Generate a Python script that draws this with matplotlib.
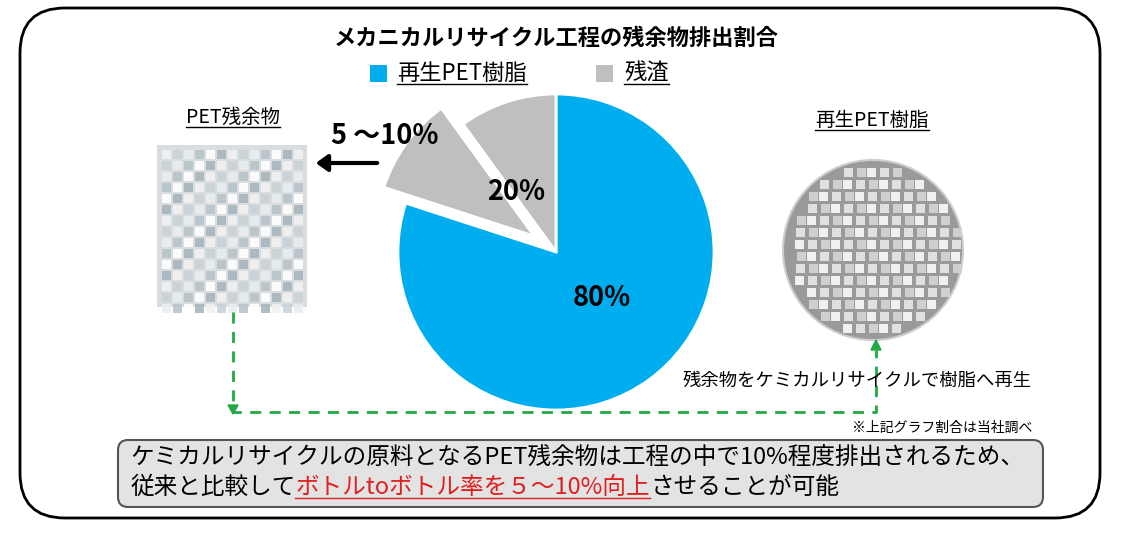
import matplotlib
matplotlib.use("Agg")
import matplotlib.pyplot as plt
from matplotlib.patches import FancyBboxPatch, Rectangle, Circle, Polygon
import numpy as np

plt.rcParams['font.family'] = ['Noto Sans CJK JP', 'DejaVu Sans']

title = "メカニカルリサイクル工程の残余物排出割合"
legend_labels = ["再生PET樹脂", "残渣"]
slice_values = [80, 10, 10]
slice_colors = ["#00AEEF", "#BFBFBF", "#BFBFBF"]
slice_explode = [0, 27, 0]  # pixel offset (data units)
label_main = "80%"
label_residue = "20%"
label_range = "5 ～10%"

W, H = 1132, 538
fig = plt.figure(figsize=(W/100, H/100), dpi=100)
ax = fig.add_axes([0, 0, 1, 1])
ax.set_xlim(0, W); ax.set_ylim(0, H); ax.set_aspect('equal'); ax.axis('off')
Y = lambda y: H - y

def utext(x, y, s, size, color='black', ha='center', weight='normal'):
    t = ax.text(x, Y(y), s, fontsize=size, color=color, ha=ha, va='center', weight=weight)
    fig.canvas.draw()
    bb = t.get_window_extent().transformed(ax.transData.inverted())
    ax.plot([bb.x0, bb.x1], [bb.y0 + 1, bb.y0 + 1], color=color, lw=1)
    return t

ax.add_patch(FancyBboxPatch((20, Y(518)), 1080, 510, boxstyle="round,pad=0,rounding_size=45",
                            fc='white', ec='black', lw=2))
ax.text(556, Y(38), title, fontsize=16, weight='bold', ha='center', va='center')

ax.add_patch(Rectangle((370, Y(82)), 17, 17, fc=slice_colors[0]))
utext(397, 73, legend_labels[0], 16, ha='left')
ax.add_patch(Rectangle((596, Y(82)), 17, 17, fc=slice_colors[1]))
utext(624, 73, legend_labels[1], 16, ha='left')

ax.pie(slice_values, colors=slice_colors, explode=slice_explode, startangle=90,
       counterclock=False, center=(556, Y(252)), radius=158, frame=True,
       wedgeprops=dict(edgecolor='white', linewidth=2))
ax.set_xlim(0, W); ax.set_ylim(0, H); ax.axis('off')
ax.text(602, Y(298), label_main, fontsize=19.5, weight='bold', ha='center', va='center')
ax.text(516, Y(192), label_residue, fontsize=19.5, weight='bold', ha='center', va='center')
ax.text(385, Y(136), label_range, fontsize=19.5, weight='bold', ha='center', va='center')
ax.annotate("", xy=(313, Y(163)), xytext=(380, Y(163)),
            arrowprops=dict(arrowstyle='-|>,head_width=0.5,head_length=0.7', color='black', lw=3))

utext(233, 117, "PET残余物", 14)
ax.add_patch(Rectangle((157, Y(307)), 150, 162, fc='#d9dde0', ec='none'))
gx, gy = np.meshgrid(np.arange(162, 305, 11), np.arange(150, 305, 11))
cols = ['#f2f2f2', '#c9d3d8', '#e8eef0', '#b8c4ca', '#ffffff', '#a9b6bd']
for i, (x, y) in enumerate(zip(gx.ravel(), gy.ravel())):
    ax.add_patch(Rectangle((x, Y(y) - 9), 9, 9, fc=cols[(i * 7) % 6], ec='none', alpha=0.9))

utext(872, 120, "再生PET樹脂", 14)
ax.add_patch(Circle((873, Y(250)), 90, fc='#9a9a9a', ec='#cccccc', lw=1.5))
px, py = np.meshgrid(np.arange(795, 955, 12), np.arange(168, 336, 12))
for i, (x, y) in enumerate(zip(px.ravel(), py.ravel())):
    if (x + 4 - 873) ** 2 + (y + 4 - 250) ** 2 < 84 ** 2:
        ax.add_patch(Rectangle((x + (i % 3), Y(y) - 9), 9, 9, fc=['#f0f0f0', '#e0e0e0', '#d0d0d0'][i % 3], ec='none'))
ax.text(857, Y(381), "残余物をケミカルリサイクルで樹脂へ再生", fontsize=13.2, ha='center', va='center')
ax.text(942, Y(428), "※上記グラフ割合は当社調べ", fontsize=10, ha='center', va='center')

g = '#22AA44'
ax.plot([233, 233, 876, 876], [Y(312), Y(412), Y(412), Y(350)], color=g, lw=2, ls=(0, (4, 3)))
ax.add_patch(Polygon([(228, Y(405)), (238, Y(405)), (233, Y(414))], color=g))
ax.add_patch(Polygon([(871, Y(350)), (881, Y(350)), (876, Y(340))], color=g))

ax.add_patch(FancyBboxPatch((118, Y(507)), 925, 67, boxstyle="round,pad=0,rounding_size=10",
                            fc='#E3E3E3', ec='#555555', lw=1.5))
ax.text(130, Y(458), "ケミカルリサイクルの原料となるPET残余物は工程の中で10%程度排出されるため、",
        fontsize=17, ha='left', va='center')
t1 = ax.text(130, Y(487), "従来と比較して", fontsize=17, ha='left', va='center')
fig.canvas.draw()
bb = t1.get_window_extent().transformed(ax.transData.inverted())
t2 = utext(bb.x1, 487, "ボトルtoボトル率を５～10%向上", 17, color='#E02020', ha='left')
fig.canvas.draw()
bb2 = t2.get_window_extent().transformed(ax.transData.inverted())
ax.text(bb2.x1, Y(487), "させることが可能", fontsize=17, ha='left', va='center')

fig.savefig("out.png", dpi=100)
